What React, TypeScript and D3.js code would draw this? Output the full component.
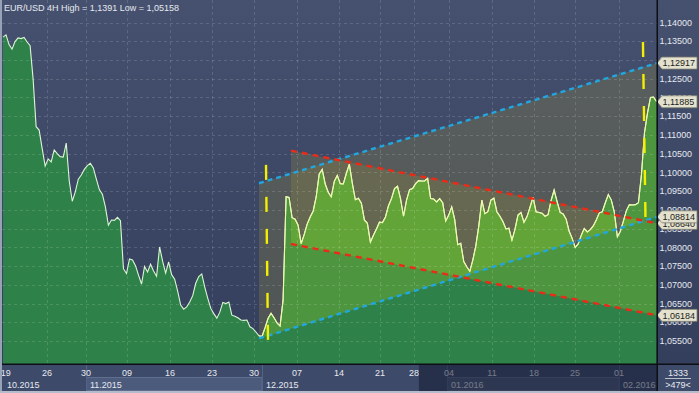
import React from "react";
import * as d3 from "d3";

// EUR/USD 4H closes, one value per sampled bar
const prices: number[] = [
  1.1361, 1.1367, 1.1341, 1.1329, 1.1349, 1.1359, 1.1357, 1.1360, 1.1348, 1.1338,
  1.1249, 1.1122, 1.1113, 1.1064, 1.1017, 1.1036, 1.1028, 1.1060, 1.1050, 1.1042,
  1.1041, 1.1078, 1.0977, 1.0923, 1.0948, 1.0982, 1.0993, 1.1008, 1.1018, 1.1024,
  1.1012, 1.0982, 1.0954, 1.0942, 1.0908, 1.0859, 1.0873, 1.0872, 1.0880, 1.0871,
  1.0743, 1.0730, 1.0769, 1.0766, 1.0751, 1.0726, 1.0702, 1.0749, 1.0734, 1.0755,
  1.0737, 1.0723, 1.0801, 1.0763, 1.0731, 1.0761, 1.0727, 1.0715, 1.0683, 1.0646,
  1.0635, 1.0641, 1.0654, 1.0671, 1.0704, 1.0722, 1.0729, 1.0694, 1.0664, 1.0637,
  1.0623, 1.0611, 1.0627, 1.0653, 1.0650, 1.0654, 1.0619, 1.0616, 1.0612, 1.0606,
  1.0605, 1.0606, 1.0588, 1.0583, 1.0574, 1.0564, 1.0562, 1.0585, 1.0610, 1.0624,
  1.0612, 1.0598, 1.0590, 1.0659, 1.0935, 1.0933, 1.0879, 1.0875, 1.0859, 1.0810,
  1.0834, 1.0862, 1.0881, 1.0897, 1.0935, 1.0996, 1.1008, 1.0969, 1.0947, 1.0935,
  1.0976, 1.0992, 1.0970, 1.0969, 1.0997, 1.1022, 1.0971, 1.0927, 1.0931, 1.0918,
  1.0873, 1.0864, 1.0814, 1.0832, 1.0849, 1.0867, 1.0866, 1.0881, 1.0911, 1.0930,
  1.0957, 1.0963, 1.0930, 1.0883, 1.0926, 1.0954, 1.0957, 1.0970, 1.0978, 1.0977,
  1.0977, 1.0984, 1.0930, 1.0929, 1.0921, 1.0930, 1.0919, 1.0870, 1.0886, 1.0908,
  1.0874, 1.0807, 1.0811, 1.0762, 1.0748, 1.0736, 1.0766, 1.0804, 1.0858, 1.0926,
  1.0890, 1.0895, 1.0926, 1.0931, 1.0895, 1.0883, 1.0869, 1.0849, 1.0851, 1.0819,
  1.0848, 1.0886, 1.0893, 1.0867, 1.0882, 1.0907, 1.0934, 1.0895, 1.0893, 1.0891,
  1.0883, 1.0887, 1.0925, 1.0953, 1.0922, 1.0893, 1.0889, 1.0875, 1.0843, 1.0824,
  1.0800, 1.0809, 1.0832, 1.0850, 1.0841, 1.0847, 1.0857, 1.0873, 1.0892, 1.0895,
  1.0919, 1.0941, 1.0926, 1.0894, 1.0828, 1.0843, 1.0870, 1.0898, 1.0914, 1.0913,
  1.0914, 1.0919, 1.0994, 1.1105, 1.1158, 1.1200, 1.1201, 1.1189,
];

const yTicks: number[] = [
  1.14, 1.135, 1.13, 1.125, 1.12, 1.115, 1.11, 1.105, 1.1, 1.095,
  1.09, 1.085, 1.08, 1.075, 1.07, 1.065, 1.06, 1.055,
];

const dayLabels: string[] = ["19", "26", "30", "09", "16", "23", "30", "07", "14", "21", "28", "04", "11", "18", "25", "01"];
const dayIdx: number[] = [0.9, 14.61, 27.56, 41.18, 55.45, 69.4, 83.35, 97.63, 111.57, 125.19, 136.48, 148.1, 162.38, 176.32, 189.94, 204.56];

const monthLabels: string[] = ["10.2015", "11.2015", "12.2015", "01.2016", "02.2016"];
const monthIdx: number[] = [0, 27.56, 86.0, 147.44, 204.56];

// trend objects: [barIndex, price]
const blueUpper: number[][] = [[85.0, 1.0971], [217.2, 1.12917]];
const blueLower: number[][] = [[85.0, 1.0557], [217.2, 1.08814]];
const redUpper: number[][] = [[95.63, 1.1058], [217.2, 1.0864]];
const redLower: number[][] = [[95.63, 1.0809], [217.2, 1.06184]];
const yellowA: number[][] = [[87.33, 1.1020], [88.0, 1.0545]];
const yellowB: number[][] = [[212.5, 1.1348], [213.35, 1.0873]];

const priceTags = [
  { v: 1.12917, t: "1,12917" },
  { v: 1.11885, t: "1,11885" },
  { v: 1.0864, t: "1,08640" },
  { v: 1.08814, t: "1,08814" },
  { v: 1.06184, t: "1,06184" },
];

const titleText = "EUR/USD 4H High = 1,1391 Low = 1,05158";
const barCount = "1333";
const visibleBars = ">479<";
const dimFromIdx = 138.1;

const FONT = "'Liberation Sans', Arial, sans-serif";

export default function App() {
  const W = 699, H = 393;
  const L = 2, R = 657, T = 0, B = 364;
  const x = d3.scaleLinear().domain([0, prices.length - 1]).range([3, 656.5]);
  const y = d3.scaleLinear().domain([1.055, 1.14]).range([341, 22.5]);

  const below = d3.area<number>().x((_, i) => x(i)).y0(B).y1((d) => y(d))(prices) as string;
  const above = d3.area<number>().x((_, i) => x(i)).y0(T).y1((d) => y(d))(prices) as string;
  const curve = d3.line<number>().x((_, i) => x(i)).y((d) => y(d))(prices) as string;
  const seg = d3.line<number[]>().x((d) => x(d[0])).y((d) => y(d[1]));
  const chan = (u: number[][], l: number[][]) => (seg([u[0], u[1], l[1], l[0]]) as string) + "Z";
  const blueChan = chan(blueUpper, blueLower);
  const redChan = chan(redUpper, redLower);
  const fmt = (v: number) => d3.format(".5f")(v).replace(".", ",");
  const dimX = x(dimFromIdx);
  const monthX = monthIdx.map((m) => Math.max(x(m), 3));

  return (
    <svg width={W} height={H} style={{ display: "block", position: "absolute", left: 0, top: 0 }} fontFamily={FONT}>
      <style>{"body{margin:0}"}</style>
      <defs>
        <linearGradient id="bg" x1="0" y1="0" x2="0" y2="1">
          <stop offset="0" stopColor="#45516f" />
          <stop offset="1" stopColor="#323d5b" />
        </linearGradient>
        <clipPath id="plot"><rect x={L} y={T} width={R - L} height={B - T} /></clipPath>
        <clipPath id="below"><path d={below} /></clipPath>
        <clipPath id="above"><path d={above} /></clipPath>
        <clipPath id="chans"><path d={blueChan} /><path d={redChan} /></clipPath>
        <clipPath id="left"><rect x={L} y={B} width={R - L} height={H - B} /></clipPath>
      </defs>

      <rect x={0} y={0} width={W} height={H} fill="url(#bg)" />

      <g clipPath="url(#plot)">
        <path d={below} fill="#2e8149" />
        <g clipPath="url(#above)">
          <path d={blueChan} fill="rgba(150,140,60,0.28)" />
          <path d={redChan} fill="rgba(150,140,60,0.28)" />
        </g>
        <g clipPath="url(#below)">
          <path d={blueChan} fill="rgba(150,200,40,0.3)" />
          <path d={redChan} fill="rgba(150,200,40,0.3)" />
        </g>
        {yTicks.map((t) => (
          <line key={"h" + t} x1={L} x2={R} y1={Math.round(y(t)) + 0.5} y2={Math.round(y(t)) + 0.5}
            stroke="rgba(255,255,255,0.14)" strokeDasharray="3 3" />
        ))}
        {dayIdx.slice(1).map((d, i) => (
          <line key={"v" + i} x1={Math.round(x(d)) + 0.5} x2={Math.round(x(d)) + 0.5} y1={T} y2={B}
            stroke="rgba(255,255,255,0.14)" strokeDasharray="3 3" />
        ))}
        <path d={curve} fill="none" stroke="#dcf6d4" strokeWidth={1.1} />
        <g clipPath="url(#chans)">
          <path d={curve} fill="none" stroke="#eef9a6" strokeWidth={1.1} />
        </g>
        <path d={seg(blueUpper) as string} stroke="#22a6de" strokeWidth={2.4} strokeDasharray="5 4" fill="none" />
        <path d={seg(blueLower) as string} stroke="#22a6de" strokeWidth={2.4} strokeDasharray="5 4" fill="none" />
        <path d={seg(redUpper) as string} stroke="#ec2a18" strokeWidth={2.4} strokeDasharray="6 5" fill="none" />
        <path d={seg(redLower) as string} stroke="#ec2a18" strokeWidth={2.4} strokeDasharray="6 5" fill="none" />
        <path d={seg(yellowA) as string} stroke="#f4ee00" strokeWidth={2.4} strokeDasharray="15 17" fill="none" />
        <path d={seg(yellowB) as string} stroke="#f4ee00" strokeWidth={2.4} strokeDasharray="15 17" fill="none" />
      </g>

      <text x={4} y={11} fontSize={9} fill="#e6e9f0">{titleText}</text>

      {/* right axis */}
      {yTicks.map((t) => (
        <text key={"yl" + t} x={659.5} y={y(t) + 3.2} fontSize={9} fill="#e6e9f0">{fmt(t)}</text>
      ))}
      {priceTags.map((p) => {
        const cy = y(p.v);
        return (
          <g key={p.t}>
            <path d={`M${R},${cy} L${R + 5},${cy - 6} L697,${cy - 6} L697,${cy + 6} L${R + 5},${cy + 6} Z`}
              fill="#e4e2cf" stroke="#7d7d70" strokeWidth={0.8} />
            <text x={662.5} y={cy + 3.2} fontSize={9} fill="#1c1c1c">{p.t}</text>
          </g>
        );
      })}

      {/* bottom axis */}
      <rect x={L} y={B} width={W - L} height={H - B} fill="#3d4a69" />
      <g clipPath="url(#left)">
        {monthLabels.map((m, i) =>
          i % 2 === 1 ? (
            <rect key={"mb" + m} x={monthX[i] + 0.5} y={377.5} width={(i + 1 < monthX.length ? monthX[i + 1] : R) - monthX[i] - 0.5}
              height={13} fill="#4c5a7b" stroke="#5f6d8e" strokeWidth={1} />
          ) : null
        )}
        {monthX.slice(1).map((mx, i) => (
          <line key={"ms" + i} x1={mx + 0.5} x2={mx + 0.5} y1={B} y2={391} stroke="#56648a" />
        ))}
        {dayLabels.map((d, i) => (
          <text key={"dl" + i} x={x(dayIdx[i])} y={375.5} fontSize={9} fill="#e6e9f0" textAnchor="middle">{d}</text>
        ))}
        {monthLabels.map((m, i) => (
          <text key={"ml" + m} x={monthX[i] + 4} y={387.5} fontSize={9} fill="#e6e9f0">{m}</text>
        ))}
        <rect x={dimX} y={B} width={R - dimX} height={391 - B} fill="rgba(20,28,50,0.55)" />
      </g>
      <text x={678} y={375.5} fontSize={9} fill="#e6e9f0" textAnchor="middle">{barCount}</text>
      <line x1={665} x2={691} y1={378.5} y2={378.5} stroke="#b8c0cc" />
      <text x={678} y={387.5} fontSize={9} fill="#e6e9f0" textAnchor="middle">{visibleBars}</text>

      {/* frame lines */}
      <rect x={L} y={B - 0.5} width={W - L} height={1.5} fill="#0d0f14" />
      <rect x={R - 0.5} y={0} width={1.5} height={391} fill="#0d0f14" />
      <rect x={0} y={0} width={2} height={H} fill="#98a2b6" />
      <rect x={0} y={391} width={W} height={2} fill="#b4bccb" />
    </svg>
  );
}
